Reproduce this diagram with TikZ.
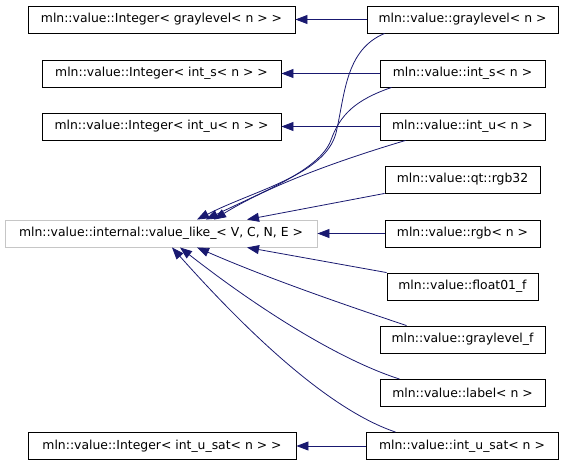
\documentclass[tikz,border=0pt]{standalone}
\usepackage{fontspec}
\setmainfont{DejaVu Sans}
\usetikzlibrary{arrows.meta}
\definecolor{edgeblue}{HTML}{191970}
\begin{document}
\begin{tikzpicture}[x=1pt,y=-1pt,
  cls/.style={draw=black,line width=0.9pt,minimum height=27pt,inner sep=0pt,font=\fontsize{12.4}{14}\selectfont},
  base/.style={cls,draw=gray!45},
  inh/.style={draw=edgeblue,line width=0.8pt,-{Triangle[length=12pt,width=9pt]}}]
  \useasboundingbox (0,0) rectangle (563,467);
  % base classes
  \node[cls,minimum width=267pt] (intgray) at (161.5,19.5) {mln::value::Integer< graylevel< n > >};
  \node[cls,minimum width=239pt] (ints) at (161.5,73.5) {mln::value::Integer< int\_s< n > >};
  \node[cls,minimum width=239pt] (intu) at (161.5,126.5) {mln::value::Integer< int\_u< n > >};
  \node[base,minimum width=312pt] (vlike) at (161,233.5) {mln::value::internal::value\_like\_< V, C, N, E >};
  \node[cls,minimum width=268pt] (intusat) at (162,446) {mln::value::Integer< int\_u\_sat< n > >};
  % derived classes
  \node[cls,minimum width=191pt] (gray) at (462.5,19.5) {mln::value::graylevel< n >};
  \node[cls,minimum width=165pt] (ints_r) at (462.5,73.5) {mln::value::int\_s< n >};
  \node[cls,minimum width=165pt] (intu_r) at (462.5,126.5) {mln::value::int\_u< n >};
  \node[cls,minimum width=155pt] (rgb32) at (462.5,179.5) {mln::value::qt::rgb32};
  \node[cls,minimum width=155pt] (rgb) at (462.5,233.5) {mln::value::rgb< n >};
  \node[cls,minimum width=151pt] (float) at (462.5,286.5) {mln::value::float01\_f};
  \node[cls,minimum width=165pt] (grayf) at (462.5,339.5) {mln::value::graylevel\_f};
  \node[cls,minimum width=165pt] (label) at (462.5,393) {mln::value::label< n >};
  \node[cls,minimum width=192pt] (intusat_r) at (462,446) {mln::value::int\_u\_sat< n >};
  % inheritance
  \draw[inh] (gray.west) -- (intgray.east);
  \draw[inh] (ints_r.west) -- (ints.east);
  \draw[inh] (intu_r.west) -- (intu.east);
  \draw[inh] (intusat_r.west) -- (intusat.east);
  \draw[inh] (rgb.west) -- (vlike.east);
  \draw[inh] ([xshift=18pt]gray.south west) .. controls (345,50) and (345,95) .. (336,133) .. controls (325,175) and (255,190) .. ([xshift=36pt]vlike.north);
  \draw[inh] ([xshift=12pt]ints_r.south west) .. controls (355,100) and (340,115) .. (331,140) .. controls (320,170) and (262,192) .. ([xshift=45pt]vlike.north);
  \draw[inh] ([xshift=26pt]intu_r.south west) .. controls (340,160) and (270,185) .. ([xshift=53pt]vlike.north);
  \draw[inh] (rgb32.south west) -- ([xshift=86pt]vlike.north);
  \draw[inh] (float.north west) -- ([xshift=86pt]vlike.south);
  \draw[inh] ([xshift=27pt]grayf.north west) .. controls (330,300) and (260,275) .. ([xshift=36pt]vlike.south);
  \draw[inh] ([xshift=20pt]label.north west) .. controls (340,360) and (260,310) .. ([xshift=19pt]vlike.south);
  \draw[inh] ([xshift=30pt]intusat_r.north west) .. controls (330,410) and (250,335) .. ([xshift=11pt]vlike.south);
\end{tikzpicture}
\end{document}
